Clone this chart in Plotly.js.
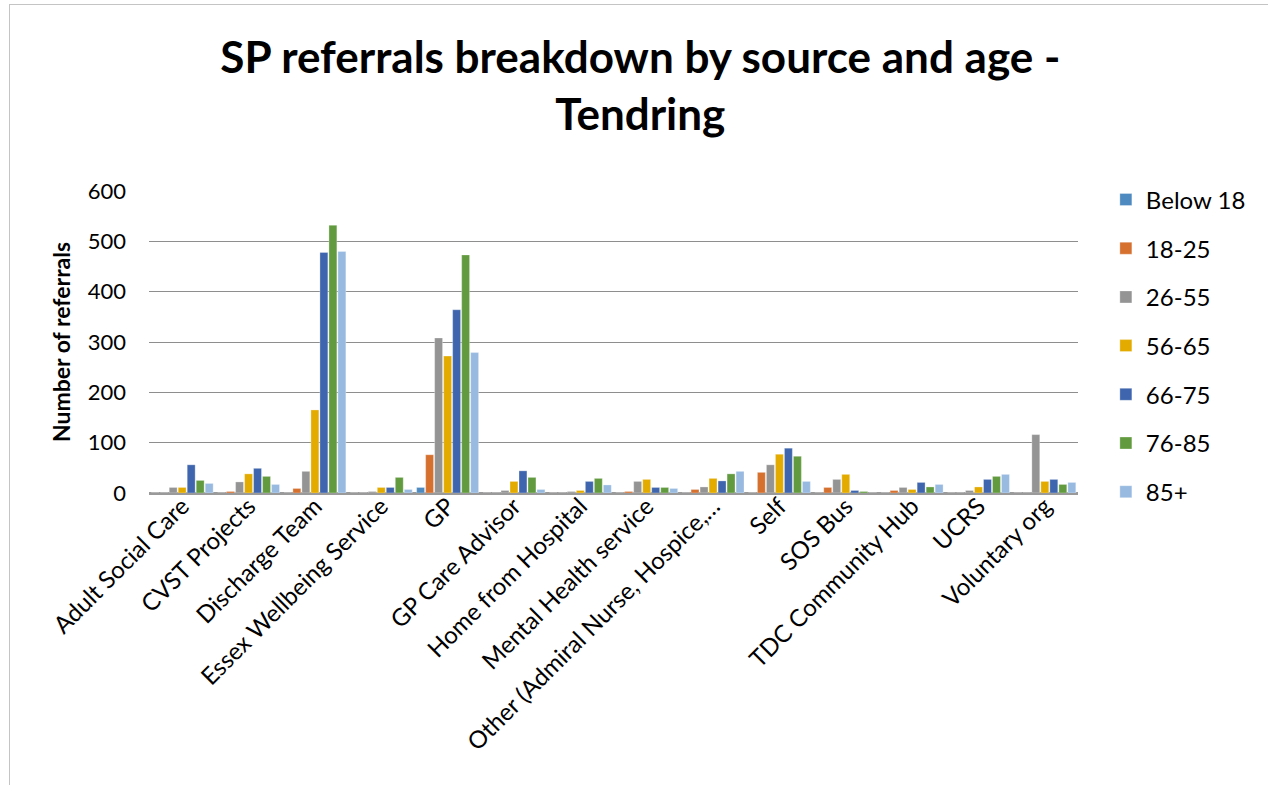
<!DOCTYPE html>
<html>
<head>
<meta charset="utf-8">
<script src="https://cdn.plot.ly/plotly-3.0.1.min.js"></script>
<style>
  html, body { margin: 0; padding: 0; background: #ffffff; }
  #frame { position: absolute; left: 9px; top: 4px; width: 1300px; height: 800px;
           border-left: 1.5px solid #c4c4c4; border-top: 1.5px solid #c4c4c4; }
  #chart { position: absolute; left: 0; top: 0; width: 1268px; height: 785px; }
</style>
</head>
<body>
<div id="frame"></div>
<div id="chart"></div>
<script>
const categories = [
  'Adult Social Care', 'CVST Projects', 'Discharge Team', 'Essex Wellbeing Service',
  'GP', 'GP Care Advisor', 'Home from Hospital', 'Mental Health service',
  'Other (Admiral Nurse, Hospice,…', 'Self', 'SOS Bus', 'TDC Community Hub',
  'UCRS', 'Voluntary org'
];
const seriesNames = ['Below 18', '18-25', '26-55', '56-65', '66-75', '76-85', '85+'];

const below18 = [0, 0, 0, 0, 11, 0, 0, 0, 0, 0, 0, 0, 0, 0];
const age18to25 = [0, 3, 9, 0, 76, 0, 0, 3, 7, 41, 11, 5, 0, 0];
const age26to55 = [11, 22, 43, 3, 308, 5, 3, 23, 12, 56, 27, 11, 5, 116];
const age56to65 = [11, 38, 165, 11, 272, 23, 5, 27, 29, 77, 37, 7, 12, 23];
const age66to75 = [56, 49, 478, 11, 364, 44, 23, 11, 24, 89, 5, 21, 27, 27];
const age76to85 = [25, 33, 532, 31, 473, 31, 29, 11, 38, 73, 3, 12, 33, 17];
const age85plus = [19, 17, 480, 7, 279, 7, 16, 9, 43, 23, 0, 17, 37, 21];

const seriesValues = [below18, age18to25, age26to55, age56to65, age66to75, age76to85, age85plus];
const colors = ['#4E8AC0', '#D5702F', '#949494', '#E3AB00', '#3E65AD', '#629B3F', '#98BAE0'];

const traces = seriesNames.map((name, i) => ({
  type: 'bar',
  name: name,
  x: categories,
  y: seriesValues[i],
  legendgroup: 'g' + i,
  marker: { color: colors[i], line: { color: 'rgba(255,255,255,0.6)', width: 0.5 } },
  hoverinfo: 'x+y+name'
}));

const font = 'Lato, "Open Sans", sans-serif';

const layout = {
  width: 1268,
  height: 785,
  paper_bgcolor: 'rgba(0,0,0,0)',
  plot_bgcolor: 'rgba(0,0,0,0)',
  font: { family: font, color: '#000000', size: 22 },
  title: {
    text: '<b>SP referrals breakdown by source and age -<br>Tendring</b>',
    font: { family: font, size: 44, color: '#000000' },
    x: 0.505, xanchor: 'center',
    y: 0.907, yanchor: 'middle', yref: 'container'
  },
  margin: { l: 149, r: 190, t: 191, b: 292 },
  barmode: 'group',
  bargap: 0.05,
  bargroupgap: 0.12,
  xaxis: {
    type: 'category',
    tickangle: -45,
    tickfont: { family: font, size: 24, color: '#000000' },
    showgrid: false,
    showline: true,
    linecolor: '#9a9a9a',
    linewidth: 1.5,
    ticks: '',
    ticklabelstandoff: -12,
    automargin: false,
    fixedrange: true
  },
  yaxis: {
    range: [0, 600],
    dtick: 100,
    tickfont: { family: font, size: 22, color: '#000000' },
    showgrid: true,
    gridcolor: '#8e8e8e',
    gridwidth: 1,
    zeroline: true,
    zerolinecolor: '#9a9a9a',
    zerolinewidth: 1.5,
    showline: false,
    ticks: '',
    ticklabelstandoff: 22,
    automargin: false,
    fixedrange: true,
    title: {
      text: '<b>Number of referrals</b>',
      font: { family: font, size: 23, color: '#000000' },
      standoff: 10
    }
  },
  showlegend: true,
  legend: {
    x: 1.03, xanchor: 'left',
    y: 1.045, yanchor: 'top',
    font: { family: font, size: 24, color: '#000000' },
    tracegroupgap: 14.5,
    traceorder: 'grouped',
    bgcolor: 'rgba(0,0,0,0)'
  }
};

Plotly.newPlot('chart', traces, layout, { displayModeBar: false, staticPlot: false });
</script>
</body>
</html>
